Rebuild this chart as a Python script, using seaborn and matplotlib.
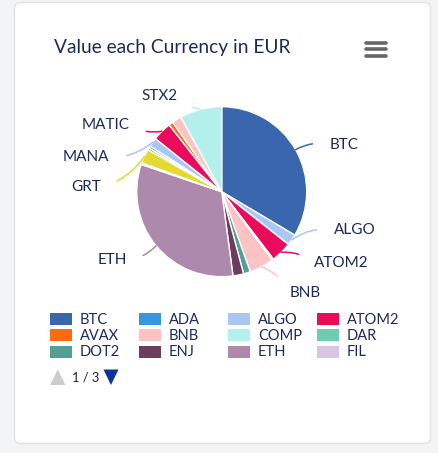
import numpy as np
import matplotlib
matplotlib.use("Agg")
import matplotlib.pyplot as plt
from matplotlib.patches import FancyBboxPatch, Rectangle, Polygon
import seaborn as sns

# ------------------------------------------
# data (EUR value per coin, legend order)
# ------------------------------------------
coins = ["BTC", "ADA", "ALGO", "ATOM2", "AVAX", "BNB", "COMP", "DAR", "DOT2", "ENJ",
         "ETH", "FIL", "GRT", "ICP", "LINK", "MANA", "MATIC", "NEAR", "SOL", "STX2"]
values_eur = [1660, 0, 105, 195, 15, 230, 0, 0, 65, 100,
              1600, 15, 135, 20, 20, 85, 180, 40, 90, 395]
coin_colors = ["#3a66ad", "#3796e0", "#a9c7f5", "#ea0b5c", "#fc6c0e", "#fdc3c4", "#b4f0eb",
               "#6fccb0", "#52a095", "#6c3d5f", "#ad89ae", "#d6c5e4", "#e2da31", "#84b42d",
               "#3796e0", "#a9c7f5", "#ea0b5c", "#fc6c0e", "#fdc3c4", "#b4f0eb"]
legend_page = coins[:12]
page_text = "1 / 3"
title = "Value each Currency in EUR"

# label placement (pie radius units, relative to centre)
label_layout = {
    "BTC": (1.27, 0.55, "left"),
    "ALGO": (1.32, -0.45, "left"),
    "ATOM2": (1.09, -0.84, "left"),
    "BNB": (0.80, -1.19, "left"),
    "ETH": (-1.12, -0.80, "right"),
    "GRT": (-1.42, 0.06, "right"),
    "MANA": (-1.32, 0.41, "right"),
    "MATIC": (-1.08, 0.79, "right"),
    "STX2": (-0.52, 1.13, "right"),
}

NAVY = "#1c2a5a"
W, H = 438, 453

sns.set_theme(style="white")
plt.rcParams["font.family"] = ["Lato", "DejaVu Sans"]

fig = plt.figure(figsize=(W / 100, H / 100), dpi=100)
fig.patch.set_facecolor("#f3f4f6")

# background / card in pixel coords
bg = fig.add_axes([0, 0, 1, 1])
bg.set_xlim(0, W)
bg.set_ylim(H, 0)
bg.axis("off")
bg.add_patch(FancyBboxPatch((14.5, 2.5), 416, 441, boxstyle="round,pad=0,rounding_size=6",
                            facecolor="white", edgecolor="#e2e2e4", lw=1))
bg.text(54, 47, title, fontsize=13.8, color=NAVY, va="center", ha="left")
for yy in (42.5, 49.3, 55.8):
    bg.plot([365.5, 385.5], [yy, yy], color="#666666", lw=2.6, solid_capstyle="round")

# legend (first page)
col_x = [49.5, 139, 228, 317]
row_y = [319, 335, 352]
for i, name in enumerate(legend_page):
    cx, ry = col_x[i % 4], row_y[i // 4]
    bg.add_patch(Rectangle((cx, ry - 6), 22, 12, facecolor=coin_colors[coins.index(name)],
                           edgecolor="none"))
    bg.text(cx + 30, ry + 0.5, name, fontsize=10.5, color=NAVY, va="center", ha="left")

# pager
bg.add_patch(Polygon([[50, 385], [65.5, 385], [57.75, 369.5]], closed=True,
                     facecolor="#cccccc", edgecolor="none"))
bg.text(71.5, 377.5, page_text, fontsize=9.3, color="#222222", va="center", ha="left")
bg.add_patch(Polygon([[103.5, 369.5], [118.5, 369.5], [111, 385]], closed=True,
                     facecolor="#0b3296", edgecolor="none"))

# pie
cx_px, cy_px, half = 221.7, 191.7, 170
ax = fig.add_axes([(cx_px - half) / W, (H - cy_px - half) / H, 2 * half / W, 2 * half / H])
ax.set_facecolor("none")

mask = [v > 0 for v in values_eur]
pie_vals = [v for v, m in zip(values_eur, mask) if m]
pie_names = [n for n, m in zip(coins, mask) if m]
pie_cols = [c for c, m in zip(coin_colors, mask) if m]

wedges, _ = ax.pie(pie_vals, colors=pie_cols, startangle=90, counterclock=False, radius=1,
                   wedgeprops=dict(edgecolor="white", linewidth=1))
ax.set_xlim(-2, 2)
ax.set_ylim(-2, 2)
ax.set_aspect("equal")
ax.axis("off")

for w, name, col in zip(wedges, pie_names, pie_cols):
    if name not in label_layout:
        continue
    lx, ly, side = label_layout[name]
    mid = np.deg2rad((w.theta1 + w.theta2) / 2)
    x0, y0 = np.cos(mid), np.sin(mid)
    ax.annotate(name, xy=(x0, y0), xytext=(lx, ly), ha=side, va="center",
                fontsize=11, color=NAVY,
                arrowprops=dict(arrowstyle="-", color=col, lw=1.1, shrinkA=10, shrinkB=0,
                                relpos=(0, 0.5) if side == "left" else (1, 0.5),
                                connectionstyle="arc3,rad=0.2"),
                annotation_clip=False)

fig.savefig("out.png", dpi=100, facecolor=fig.get_facecolor())
